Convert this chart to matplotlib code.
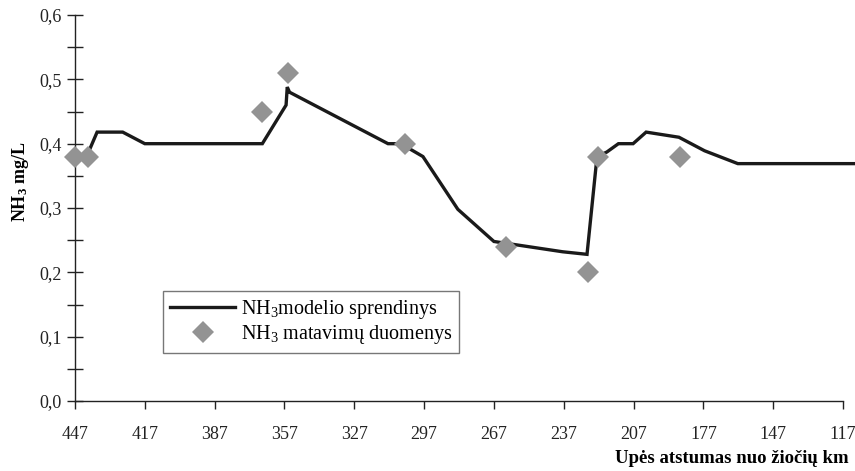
import matplotlib
matplotlib.use("Agg")
import matplotlib.pyplot as plt
from matplotlib.ticker import MultipleLocator, FuncFormatter

plt.rcParams["font.family"] = "Liberation Serif"
plt.rcParams["mathtext.fontset"] = "custom"
plt.rcParams["mathtext.rm"] = "Liberation Serif"
plt.rcParams["mathtext.bf"] = "Liberation Serif:bold"
plt.rcParams["mathtext.it"] = "Liberation Serif:italic"

# model solution along the river (km from mouth, mg/L)
model_km = [442, 437.5, 426.5, 417, 366.5, 356.3, 355.8, 354.8, 312.5, 307,
            297.5, 282.5, 267, 237.5, 227, 222.7, 218.5, 213.5, 207.2, 201.6,
            187.5, 176.5, 162.2, 112]
model_nh3 = [0.38, 0.418, 0.418, 0.40, 0.40, 0.46, 0.488, 0.48, 0.40, 0.40,
             0.38, 0.298, 0.248, 0.232, 0.228, 0.38, 0.387, 0.40, 0.40, 0.418,
             0.41, 0.389, 0.369, 0.369]

# measured values
meas_km = [447, 441.4, 366.6, 355.5, 305, 262, 226.5, 222.3, 187]
meas_nh3 = [0.38, 0.38, 0.45, 0.51, 0.40, 0.24, 0.20, 0.38, 0.38]

xticks = [447, 417, 387, 357, 327, 297, 267, 237, 207, 177, 147, 117]

fig = plt.figure(figsize=(8.55, 4.71), dpi=100)
ax = fig.add_axes([0.0877, 0.1486, 0.8983, 0.8195])

ax.plot(model_km, model_nh3, color="#1a1a1a", lw=2.4, clip_on=False,
        solid_joinstyle="miter", label=r"NH$_3$modelio sprendinys", zorder=2)
ax.plot(meas_km, meas_nh3, linestyle="none", marker="D", markersize=11,
        color="#939393", markeredgewidth=0, clip_on=False,
        label=r"NH$_3$ matavimų duomenys", zorder=3)

ax.set_xlim(447, 117)
ax.set_ylim(0, 0.6)
ax.set_xticks(xticks)
ax.yaxis.set_major_locator(MultipleLocator(0.1))
ax.yaxis.set_minor_locator(MultipleLocator(0.05))
ax.yaxis.set_major_formatter(FuncFormatter(lambda v, p: f"{v:.1f}".replace(".", ",")))

for side in ("top", "right"):
    ax.spines[side].set_visible(False)
for side in ("left", "bottom"):
    ax.spines[side].set_color("#222222")
    ax.spines[side].set_linewidth(1.0)

ax.tick_params(axis="y", which="both", direction="inout", length=11, width=1.0,
               labelsize=13, pad=4, colors="#222222")
ax.tick_params(axis="x", direction="out", length=6, width=1.0,
               labelsize=13, pad=12, colors="#222222")

ax.set_ylabel(r"NH$_\mathbf{3}$ mg/L", fontsize=13, fontweight="bold")
ax.yaxis.set_label_coords(-0.057, 0.567)
fig.text(0.993, 0.008, "Upės atstumas nuo žiočių km", ha="right", va="bottom",
         fontsize=13.5, fontweight="bold")

leg = ax.legend(loc="lower left", bbox_to_anchor=(0.115, 0.124), fontsize=14.5,
                frameon=True, fancybox=False, edgecolor="#555555",
                handlelength=3.2, handletextpad=0.3, borderpad=0.35,
                labelspacing=0.1, borderaxespad=0)
leg.get_frame().set_linewidth(1.0)

fig.savefig("out.png", dpi=100)
